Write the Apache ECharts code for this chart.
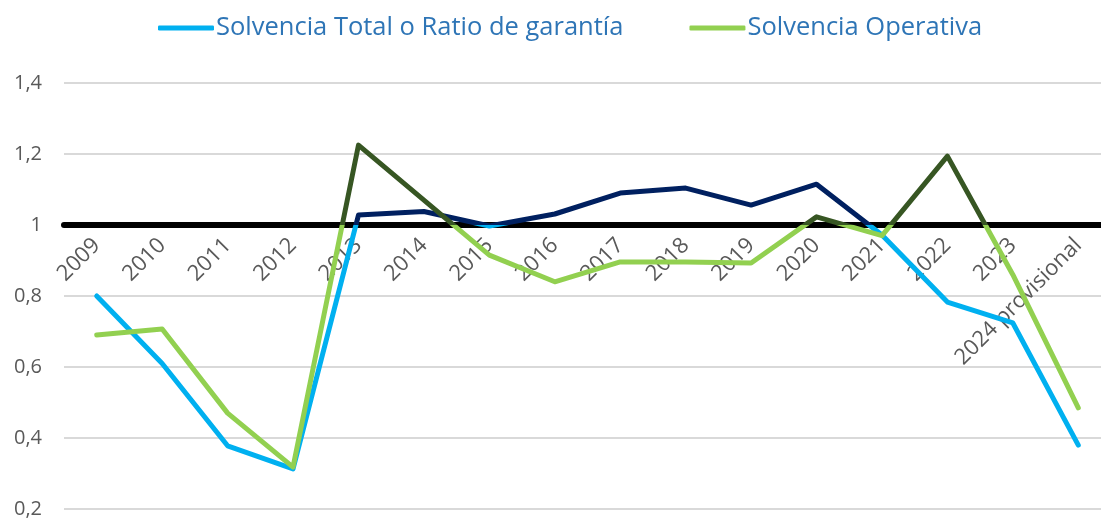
<!DOCTYPE html>
<html>
<head>
<meta charset="utf-8">
<script src="https://cdn.jsdelivr.net/npm/echarts@6/dist/echarts.min.js"></script>
<style>
  html, body { margin: 0; padding: 0; background: #fff; }
  #chart { width: 1101px; height: 519px; }
</style>
</head>
<body>
<div id="chart"></div>
<script>
// datos
const years = ['2009', '2010', '2011', '2012', '2013', '2014', '2015', '2016',
    '2017', '2018', '2019', '2020', '2021', '2022', '2023', '2024 provisional'];
const solvenciaTotal = [0.80, 0.61, 0.378, 0.313, 1.028, 1.038, 0.997, 1.031,
    1.09, 1.104, 1.056, 1.115, 0.972, 0.783, 0.724, 0.38];
const solvenciaOperativa = [0.69, 0.707, 0.47, 0.318, 1.225, 1.07, 0.915, 0.84,
    0.896, 0.896, 0.893, 1.023, 0.97, 1.194, 0.86, 0.485];
const yTicks = { min: 0.2, max: 1.4, step: 0.2 };
const umbral = 1;

const FONT = 'Open Sans';
const chart = echarts.init(document.getElementById('chart'));

const option = {
    animation: false,
    textStyle: { fontFamily: FONT },
    legend: {
        top: 10,
        left: 153,
        icon: 'roundRect',
        itemWidth: 56,
        itemHeight: 5,
        itemGap: 66,
        textStyle: { color: '#2E75B6', fontSize: 25.5, fontFamily: FONT, padding: [0, 0, 0, -3] },
        data: [
            { name: 'Solvencia Total o Ratio de garantía', itemStyle: { color: '#00B0F0' } },
            { name: 'Solvencia Operativa', itemStyle: { color: '#92D050' } }
        ]
    },
    // el área de trazado sale un poco por la derecha (recortada en el original)
    grid: { left: 64, width: 1047, top: 83, bottom: 10, containLabel: false, outerBoundsMode: 'none' },
    xAxis: {
        type: 'category',
        data: years,
        offset: -284, // eje horizontal cruza en 1
        axisLine: { show: true, lineStyle: { color: '#000', width: 6 } },
        axisTick: { show: false },
        axisLabel: { rotate: 45, color: '#595959', fontSize: 22, margin: 17 },
        splitLine: { show: false }
    },
    yAxis: {
        type: 'value',
        min: yTicks.min,
        max: yTicks.max,
        interval: yTicks.step,
        axisLine: { show: false },
        axisTick: { show: false },
        axisLabel: {
            color: '#595959',
            fontSize: 20,
            margin: 22,
            formatter: v => String(+v.toFixed(1)).replace('.', ',')
        },
        splitLine: { lineStyle: { color: '#D9D9D9', width: 2 } }
    },
    visualMap: [
        {
            show: false, seriesIndex: 0, dimension: 1,
            pieces: [
                { gte: 0, lt: umbral, color: '#00B0F0' },
                { gte: umbral, lte: 2, color: '#002060' }
            ]
        },
        {
            show: false, seriesIndex: 1, dimension: 1,
            pieces: [
                { gte: 0, lt: umbral, color: '#92D050' },
                { gte: umbral, lte: 2, color: '#375623' }
            ]
        }
    ],
    series: [
        {
            name: 'Solvencia Total o Ratio de garantía',
            type: 'line',
            data: solvenciaTotal,
            symbol: 'none',
            z: 3,
            lineStyle: { width: 5, cap: 'round', join: 'round' }
        },
        {
            name: 'Solvencia Operativa',
            type: 'line',
            data: solvenciaOperativa,
            symbol: 'none',
            z: 4,
            lineStyle: { width: 5, cap: 'round', join: 'round' }
        }
    ]
};

chart.setOption(option);
</script>
</body>
</html>
